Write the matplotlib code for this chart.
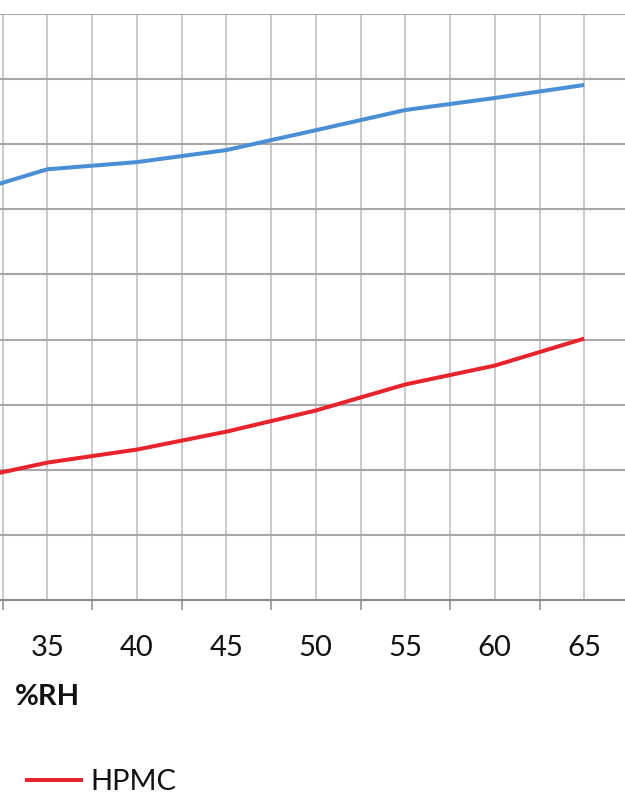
import matplotlib
matplotlib.use("Agg")
import matplotlib.pyplot as plt

plt.rcParams['font.family'] = ['Lato', 'DejaVu Sans']

# category axis (%RH) and the two series
rh = [30, 35, 40, 45, 50, 55, 60, 65]
upper = [12.4, 13.23, 13.45, 13.82, 14.43, 15.05, 15.42, 15.82]
hpmc = [3.63, 4.22, 4.62, 5.17, 5.82, 6.62, 7.20, 8.03]

blue = "#4A8ED6"
red = "#E8232B"
W, H = 625, 792

fig = plt.figure(figsize=(W / 100, H / 100), dpi=100)
# plot area runs past the left/right edge of the picture (cropped chart)
left_px, right_px = -87, 629
top_px, bottom_px = 14, 600
ax = fig.add_axes([left_px / W, 1 - bottom_px / H,
                   (right_px - left_px) / W, (bottom_px - top_px) / H])

ax.plot(rh, upper, color=blue, lw=2.9, solid_capstyle='butt', zorder=3)
line_hpmc, = ax.plot(rh, hpmc, color=red, lw=2.9, solid_capstyle='butt',
                     zorder=3, label="HPMC")

ax.set_xlim(rh[0] - 2.5, rh[-1] + 2.5)
ax.set_ylim(0, 18)
ax.set_yticks(range(0, 19, 2))
ax.tick_params(axis='y', left=False, labelleft=False)

bounds = [v + 2.5 for v in rh[:-1]] + [rh[0] - 2.5, rh[-1] + 2.5]
ax.set_xticks(sorted(bounds))
ax.set_xticklabels([])
ax.set_xticks(rh, minor=True)
# first category sits outside the visible crop
ax.set_xticklabels([''] + [str(v) for v in rh[1:]], minor=True)
ax.tick_params(axis='x', which='major', length=7.5, width=1.1,
               color="#8C8C8C", direction='out')
ax.tick_params(axis='x', which='minor', length=0, pad=25,
               labelsize=21, labelcolor="#111111")

ax.grid(axis='y', color="#A8A8A8", lw=1.5, zorder=1)
ax.grid(axis='x', which='both', color="#CACACA", lw=1.4, zorder=1)
ax.set_axisbelow(True)

for name, sp in ax.spines.items():
    sp.set_visible(name == 'bottom')
ax.spines['bottom'].set_color("#8C8C8C")
ax.spines['bottom'].set_linewidth(1.5)

fig.text(15 / W, 1 - 697 / H, "%RH", fontsize=21, fontweight='bold',
         va='center', ha='left', color="#111111")

fig.legend(handles=[line_hpmc], loc='center left',
           bbox_to_anchor=(25 / W, 1 - 782 / H), frameon=False,
           fontsize=21, handlelength=2.0, handletextpad=0.25,
           borderpad=0, borderaxespad=0, labelcolor="#111111")

fig.savefig("out.png", dpi=100)
